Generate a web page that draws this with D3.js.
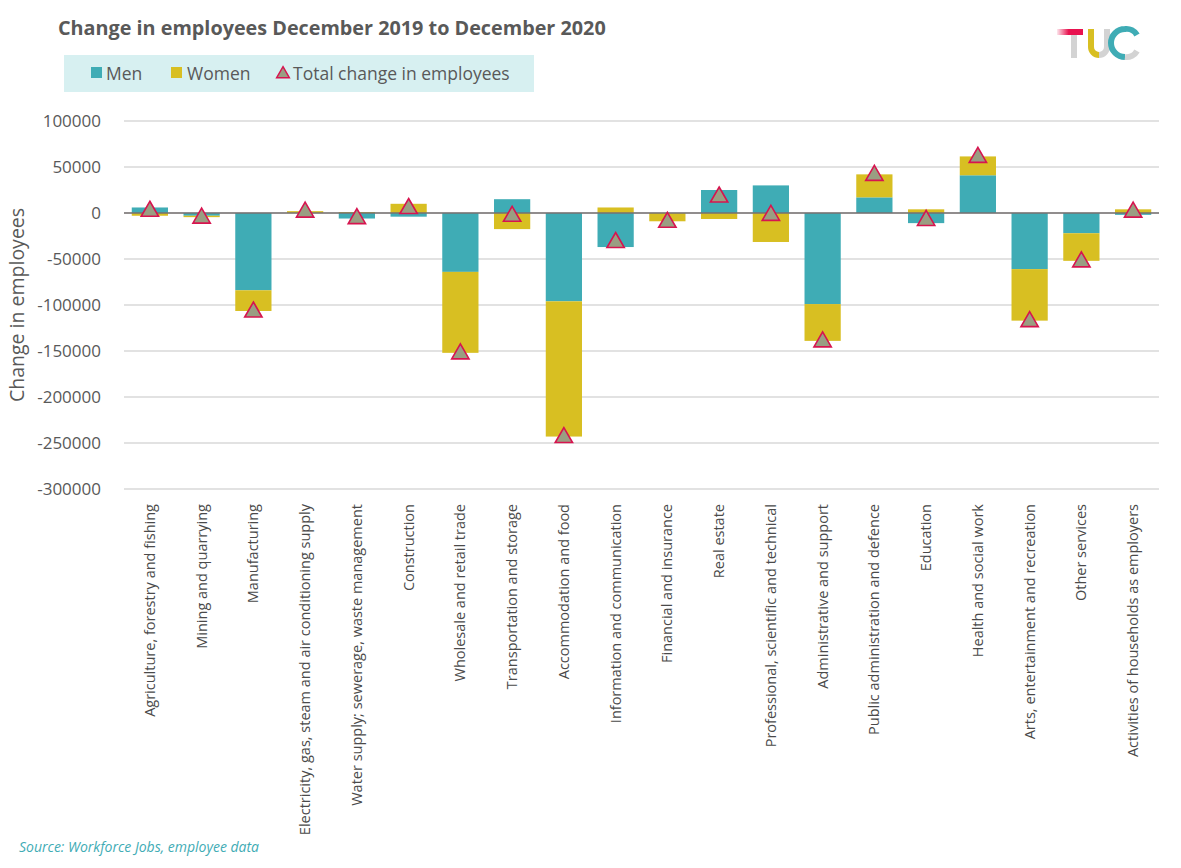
<!DOCTYPE html>
<html>
<head>
<meta charset="utf-8">
<script src="https://cdn.jsdelivr.net/npm/d3@7"></script>
<style>
  body { margin: 0; background: #fff; }
  svg { font-family: "Open Sans", sans-serif; }
</style>
</head>
<body>
<div id="chart"></div>
<script>
// Data
const categories = [
  "Agriculture, forestry and fishing",
  "Mining and quarrying",
  "Manufacturing",
  "Electricity, gas, steam and air conditioning supply",
  "Water supply; sewerage, waste management",
  "Construction",
  "Wholesale and retail trade",
  "Transportation and storage",
  "Accommodation and food",
  "Information and communication",
  "Financial and insurance",
  "Real estate",
  "Professional, scientific and technical",
  "Administrative and support",
  "Public administration and defence",
  "Education",
  "Health and social work",
  "Arts, entertainment and recreation",
  "Other services",
  "Activities of households as employers"
];
const men =   [6000, -3000, -84000, 0, -6000, -4000, -64000, 15000, -96000, -37000, 0, 25000, 30000, -99000, 17000, -11000, 41000, -61000, -22000, -2000];
const women = [-3000, -1500, -22500, 2000, 1000, 10000, -88000, -17500, -147000, 6000, -9000, -6500, -31500, -40000, 25000, 4000, 20500, -56000, -30000, 4000];
const total = [3000, -4500, -106500, 2000, -5000, 6000, -152000, -2500, -243000, -31000, -9000, 18500, -1500, -139000, 42000, -7000, 61500, -117000, -52000, 2000];
const yTicks = [100000, 50000, 0, -50000, -100000, -150000, -200000, -250000, -300000];

const W = 1181, H = 868;
const margin = { left: 124, right: 22, top: 121, bottom: 379 };

const svg = d3.select("#chart").append("svg")
  .attr("width", W)
  .attr("height", H);

// Title
svg.append("text")
  .attr("x", 58).attr("y", 35)
  .attr("font-size", 19.8).attr("font-weight", "bold")
  .attr("fill", "#595959")
  .text("Change in employees December 2019 to December 2020");

// TUC logo
const defs = svg.append("defs");
const grad = defs.append("linearGradient").attr("id", "tbar")
  .attr("gradientUnits", "userSpaceOnUse")
  .attr("x1", 1057).attr("x2", 1083).attr("y1", 0).attr("y2", 0);
grad.append("stop").attr("offset", "0%").attr("stop-color", "#e8124f").attr("stop-opacity", 0.1);
grad.append("stop").attr("offset", "45%").attr("stop-color", "#e8124f");
const logo = svg.append("g").attr("fill", "none").attr("stroke-width", 6).attr("stroke-linecap", "butt");
logo.append("path").attr("d", "M1074,35V58").attr("stroke", "#d3d3d3");
logo.append("path").attr("d", "M1057,32H1083").attr("stroke", "url(#tbar)");
logo.append("path").attr("d", "M1091,29V47A8,8 0 0 0 1099,55").attr("stroke", "#d8bf22");
logo.append("path").attr("d", "M1099,55A8,8 0 0 0 1107,47V29").attr("stroke", "#d3d3d3");
logo.append("path").attr("d", "M1137,35A12,12 0 0 0 1125,29A14,14 0 0 0 1125,57").attr("stroke", "#3facb5");
logo.append("path").attr("d", "M1125,57A12,12 0 0 0 1137,51").attr("stroke", "#d3d3d3");

// Legend
const legend = svg.append("g");
legend.append("rect").attr("x", 64).attr("y", 55).attr("width", 470).attr("height", 37).attr("fill", "#d7f0f1");
legend.append("rect").attr("x", 91).attr("y", 67).attr("width", 11).attr("height", 11).attr("fill", "#3facb5");
legend.append("text").attr("x", 106).attr("y", 80).attr("font-size", 17.5).attr("fill", "#595959").text("Men");
legend.append("rect").attr("x", 171).attr("y", 67).attr("width", 11).attr("height", 11).attr("fill", "#d8bf22");
legend.append("text").attr("x", 187).attr("y", 80).attr("font-size", 17.5).attr("fill", "#595959").text("Women");
legend.append("path")
  .attr("d", d3.symbol(d3.symbolTriangle, 70)())
  .attr("transform", "translate(283,74)")
  .attr("fill", "#9a9e82").attr("stroke", "#d7144f").attr("stroke-width", 1.5);
legend.append("text").attr("x", 293).attr("y", 80).attr("font-size", 17.5).attr("fill", "#595959").text("Total change in employees");

// Scales
const x = d3.scaleBand()
  .domain(categories)
  .range([margin.left, W - margin.right])
  .paddingInner(0.3)
  .paddingOuter(0.15);

const y = d3.scaleLinear()
  .domain([-300000, 100000])
  .range([H - margin.bottom, margin.top]);

// Gridlines
svg.append("g")
  .selectAll("line")
  .data(yTicks)
  .join("line")
  .attr("x1", margin.left).attr("x2", W - margin.right)
  .attr("y1", d => y(d)).attr("y2", d => y(d))
  .attr("stroke", "#d9d9d9").attr("stroke-width", 1.3);

// Y axis labels
const yAxis = svg.append("g")
  .attr("transform", `translate(${margin.left - 20},0)`)
  .call(d3.axisLeft(y).tickValues(yTicks).tickFormat(d => String(d)).tickSize(0));
yAxis.select(".domain").remove();
yAxis.selectAll("text")
  .attr("font-family", "Open Sans, sans-serif")
  .attr("font-size", 17).attr("fill", "#595959")
  .attr("dy", "0.35em");

svg.append("text")
  .attr("transform", `translate(24,${(margin.top + H - margin.bottom) / 2}) rotate(-90)`)
  .attr("text-anchor", "middle")
  .attr("font-size", 19.5).attr("fill", "#595959")
  .text("Change in employees");

// Stacked bars
const table = categories.map((c, i) => ({ cat: c, men: men[i], women: women[i], total: total[i] }));
const series = d3.stack()
  .keys(["men", "women"])
  .offset(d3.stackOffsetDiverging)(table);
const colors = { men: "#3facb5", women: "#d8bf22" };

svg.append("g")
  .selectAll("g")
  .data(series)
  .join("g")
  .attr("fill", d => colors[d.key])
  .selectAll("rect")
  .data(d => d)
  .join("rect")
  .attr("x", d => x(d.data.cat))
  .attr("width", x.bandwidth())
  .attr("y", d => y(Math.max(d[0], d[1])))
  .attr("height", d => Math.abs(y(d[0]) - y(d[1])));

// Zero line
svg.append("line")
  .attr("x1", margin.left).attr("x2", W - margin.right)
  .attr("y1", y(0)).attr("y2", y(0))
  .attr("stroke", "#767171").attr("stroke-width", 1.5);

// Total markers
svg.append("g")
  .selectAll("path")
  .data(table)
  .join("path")
  .attr("d", d3.symbol(d3.symbolTriangle, 130)())
  .attr("transform", d => `translate(${x(d.cat) + x.bandwidth() / 2},${y(d.total) + 1})`)
  .attr("fill", "#9a9e82").attr("stroke", "#d7144f").attr("stroke-width", 1.6);

// Category labels
svg.append("g")
  .selectAll("text")
  .data(categories)
  .join("text")
  .attr("transform", d => `translate(${x(d) + x.bandwidth() / 2 + 5},${H - margin.bottom + 15}) rotate(-90)`)
  .attr("text-anchor", "end")
  .attr("font-size", 14.5).attr("fill", "#4a4a4a")
  .text(d => d);

// Source
svg.append("text")
  .attr("x", 19).attr("y", 852)
  .attr("font-size", 14).attr("font-style", "italic")
  .attr("fill", "#3facb5")
  .text("Source: Workforce Jobs, employee data");
</script>
</body>
</html>
